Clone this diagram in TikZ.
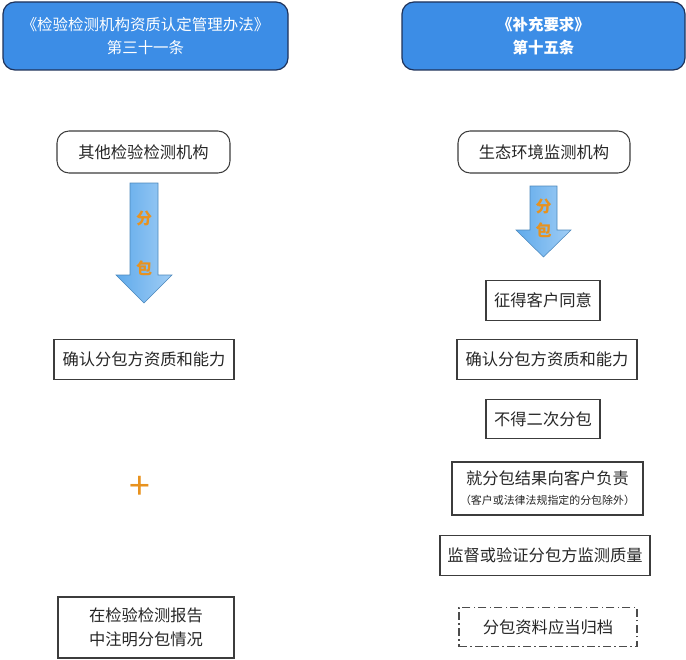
\documentclass[tikz,border=0pt]{standalone}
\usepackage{fontspec}
\setmainfont{Noto Sans CJK SC}
\definecolor{headblue}{RGB}{60,141,230}
\definecolor{headline}{RGB}{30,50,90}
\definecolor{arrowblue}{RGB}{95,170,235}
\definecolor{arrowlight}{RGB}{160,205,245}
\definecolor{labelorange}{RGB}{232,146,30}
\definecolor{boxline}{RGB}{60,60,60}
\begin{document}
\begin{tikzpicture}[
  x=0.75pt, y=-0.75pt,
  every node/.style={inner sep=0pt, align=center, font=\fontsize{12.2}{18}\selectfont, text=black!85},
  headbox/.style={draw=headline, line width=0.9pt, fill=headblue, rounded corners=9pt, text=white,
    font=\fontsize{11.6}{17}\selectfont},
  orgbox/.style={draw=boxline, line width=0.8pt, rounded corners=9pt, minimum height=31.5pt},
  plainbox/.style={draw=boxline, line width=0.8pt, minimum height=29.5pt},
  archbox/.style={plainbox, dash pattern=on 6pt off 2.5pt on 1pt off 2.5pt, draw=black!70},
  splitarrow/.style={draw=arrowblue!80!black, line width=0.4pt, left color=arrowblue, right color=arrowlight},
  splitlabel/.style={text=labelorange, font=\fontsize{12}{14}\selectfont\bfseries}
]
  \useasboundingbox (0,0) rectangle (686,660);

  % headers
  \node[headbox, minimum width=213.75pt, minimum height=51pt] (lawhead) at (145.5,36)
    {《检验检测机构资质认定管理办法》\\第三十一条};
  \node[headbox, minimum width=212.25pt, minimum height=51pt, font=\fontsize{11.6}{17}\selectfont\bfseries] (reqhead) at (543.5,36)
    {《补充要求》\\第十五条};

  % organisations
  \node[orgbox, minimum width=129.75pt] (otherorg) at (143.5,152) {其他检验检测机构};
  \node[orgbox, minimum width=129pt] (envorg) at (544,152) {生态环境监测机构};

  % arrows
  \draw[splitarrow] (130,183) -- (158,183) -- (158,275) -- (172,275) -- (144,303) -- (116,275) -- (130,275) -- cycle;
  \node[splitlabel] (lsplit1) at (144,218) {分};
  \node[splitlabel] (lsplit2) at (144,268) {包};
  \draw[splitarrow] (530,186) -- (557,186) -- (557,230) -- (571,230) -- (543.5,257) -- (516,230) -- (530,230) -- cycle;
  \node[splitlabel] (rsplit1) at (543.5,206) {分};
  \node[splitlabel] (rsplit2) at (543.5,230) {包};

  % left column
  \node[plainbox, minimum width=135pt] (lconfirm) at (144,359.5) {确认分包方资质和能力};
  \node[text=labelorange, font=\fontsize{28}{28}\selectfont] (plus) at (140,488) {+};
  \node[plainbox, minimum width=132pt, minimum height=45.75pt] (report) at (146,627.5)
    {在检验检测报告\\中注明分包情况};

  % right column
  \node[plainbox, minimum width=85.5pt] (consent) at (543,300.5) {征得客户同意};
  \node[plainbox, minimum width=135pt] (rconfirm) at (547,359.5) {确认分包方资质和能力};
  \node[plainbox, minimum width=85.5pt] (nosub) at (543,419) {不得二次分包};
  \node[plainbox, minimum width=143.25pt, minimum height=39.75pt] (liable) at (547.5,488.5)
    {就分包结果向客户负责\\[-3pt]{\fontsize{8.2}{10}\selectfont（客户或法律法规指定的分包除外）}};
  \node[plainbox, minimum width=157.5pt] (supervise) at (545,555.5) {监督或验证分包方监测质量};
  \node[archbox, minimum width=133.5pt] (archive) at (548,627) {分包资料应当归档};
\end{tikzpicture}
\end{document}
